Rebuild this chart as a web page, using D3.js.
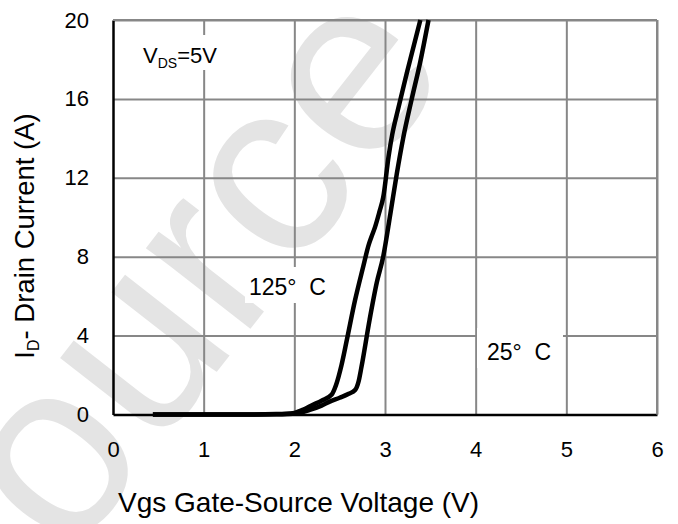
<!DOCTYPE html>
<html>
<head>
<meta charset="utf-8">
<script src="https://cdn.jsdelivr.net/npm/d3@7"></script>
<style>
  html, body { margin: 0; padding: 0; background: #ffffff; }
  svg { display: block; font-family: "Liberation Sans", Arial, sans-serif; }
</style>
</head>
<body>
<div id="chart"></div>
<script>
// ---- data ----
const xTicks = [0, 1, 2, 3, 4, 5, 6];
const yTicks = [0, 4, 8, 12, 16, 20];

// 125 °C transfer curve
const vgs125 = [0.44, 1.0, 1.5, 1.8, 2.0, 2.1, 2.2, 2.3, 2.41, 2.46, 2.52, 2.58, 2.67, 2.76, 2.82, 2.85, 2.89, 2.94, 2.98, 3.04, 3.08, 3.14, 3.24, 3.39];
const id125  = [0, 0, 0, 0.02, 0.08, 0.25, 0.48, 0.7, 1.0, 1.5, 2.5, 3.8, 5.8, 7.5, 8.6, 9.0, 9.5, 10.3, 11.0, 13.1, 14.2, 15.4, 17.3, 20];

// 25 °C transfer curve
const vgs25 = [0.44, 1.0, 1.5, 1.8, 2.03, 2.17, 2.3, 2.39, 2.5, 2.6, 2.67, 2.71, 2.74, 2.83, 2.91, 2.98, 3.06, 3.13, 3.2, 3.29, 3.39, 3.48];
const id25  = [0, 0, 0, 0.01, 0.05, 0.23, 0.45, 0.65, 0.85, 1.05, 1.24, 1.7, 2.4, 4.8, 6.7, 8.0, 10.2, 12.2, 14.0, 15.9, 17.9, 20];

const xTitle = "Vgs Gate-Source Voltage (V)";
const label125 = "125°  C";
const label25 = "25°  C";
const watermark = "Source";

// ---- drawing ----
const W = 678, H = 524;
const svg = d3.select("#chart").append("svg").attr("width", W).attr("height", H);
svg.append("rect").attr("width", W).attr("height", H).attr("fill", "#ffffff");

// watermark
svg.append("text")
  .attr("transform", "translate(-34,693) rotate(-52)")
  .attr("font-size", 250)
  .attr("fill", "#e4e4e4")
  .text(watermark);

const x = d3.scaleLinear().domain([0, 6]).range([113, 657]);
const y = d3.scaleLinear().domain([0, 20]).range([414.5, 20]);

// grid
const gx = svg.append("g").attr("transform", `translate(0,${y(0)})`)
  .call(d3.axisBottom(x).tickValues(xTicks.slice(1)).tickSize(-(y(0) - y(20))).tickFormat(""));
gx.select(".domain").remove();
gx.selectAll("line").attr("stroke", "#878787").attr("stroke-width", 2);

const gy = svg.append("g").attr("transform", `translate(${x(0)},0)`)
  .call(d3.axisLeft(y).tickValues(yTicks.slice(1)).tickSize(-(x(6) - x(0))).tickFormat(""));
gy.select(".domain").remove();
gy.selectAll("line").attr("stroke", "#878787").attr("stroke-width", 2);

// label boxes (cover grid)
function box(x0, y0, x1, y1) {
  svg.append("rect").attr("x", x0).attr("y", y0).attr("width", x1 - x0).attr("height", y1 - y0).attr("fill", "#ffffff");
}
box(137, 35, 227, 70);
box(245, 267, 331, 303);
box(477, 328, 563, 368);

// annotations
const vds = svg.append("text").attr("x", 143).attr("y", 63).attr("font-size", 22).attr("fill", "#000");
vds.append("tspan").text("V");
vds.append("tspan").attr("dy", 5).attr("font-size", 14).text("DS");
vds.append("tspan").attr("dy", -5).text("=5V");

svg.append("text").attr("x", 249).attr("y", 295).attr("font-size", 23)
  .attr("fill", "#000").style("white-space", "pre").text(label125);
svg.append("text").attr("x", 487).attr("y", 360).attr("font-size", 23)
  .attr("fill", "#000").style("white-space", "pre").text(label25);

// axes
const ax = svg.append("g").attr("transform", `translate(0,${y(0)})`)
  .call(d3.axisBottom(x).tickValues(xTicks).tickSize(0).tickSizeOuter(0).tickPadding(27).tickFormat(d3.format("d")));
ax.select(".domain").attr("stroke", "#000").attr("stroke-width", 2.5);
ax.selectAll("text").attr("font-size", 22).attr("fill", "#000").attr("font-family", "Liberation Sans, Arial, sans-serif");

const ay = svg.append("g").attr("transform", `translate(${x(0)},0)`)
  .call(d3.axisLeft(y).tickValues(yTicks).tickSize(0).tickSizeOuter(0).tickPadding(24).tickFormat(d3.format("d")));
ay.select(".domain").attr("stroke", "#000").attr("stroke-width", 2.5);
ay.selectAll("text").attr("font-size", 22).attr("fill", "#000").attr("font-family", "Liberation Sans, Arial, sans-serif");

// right/top frame (gray)
svg.append("line").attr("x1", x(0)).attr("x2", x(6)).attr("y1", y(20)).attr("y2", y(20)).attr("stroke", "#878787").attr("stroke-width", 2);
svg.append("line").attr("x1", x(6)).attr("x2", x(6)).attr("y1", y(20)).attr("y2", y(0)).attr("stroke", "#878787").attr("stroke-width", 2);

// curves
const line = d3.line().x(d => x(d[0])).y(d => y(d[1])).curve(d3.curveMonotoneX);
[[vgs125, id125], [vgs25, id25]].forEach(([vx, vy]) => {
  svg.append("path").datum(d3.zip(vx, vy)).attr("d", line)
    .attr("fill", "none").attr("stroke", "#000").attr("stroke-width", 4.5)
    .attr("stroke-linejoin", "round");
});

// axis titles
svg.append("text").attr("x", 118).attr("y", 512).attr("font-size", 28).attr("fill", "#000").text(xTitle);

const yt = svg.append("text").attr("transform", "translate(34,236) rotate(-90)")
  .attr("text-anchor", "middle").attr("font-size", 27.5).attr("fill", "#000");
yt.append("tspan").text("I");
yt.append("tspan").attr("dy", 5).attr("font-size", 16).text("D");
yt.append("tspan").attr("dy", -5).text("- Drain Current (A)");
</script>
</body>
</html>
